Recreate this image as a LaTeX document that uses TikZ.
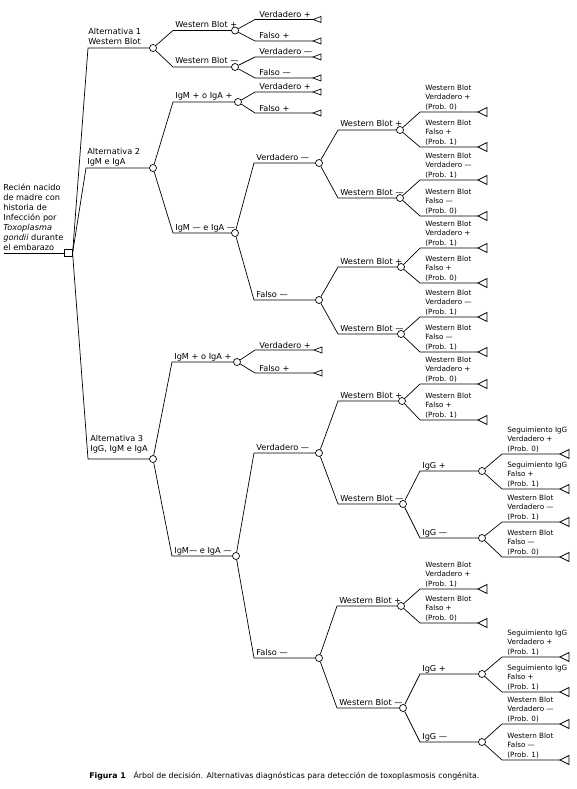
\documentclass[tikz,border=0pt]{standalone}
\usepackage{fontspec}
\setmainfont{DejaVu Sans}
\begin{document}
\begin{tikzpicture}[x=1pt, y=-1pt, line width=0.7pt,
	azar/.style={circle, draw, fill=white, inner sep=0pt, minimum size=7pt},
	decision/.style={rectangle, draw, fill=white, inner sep=0pt, minimum size=7.5pt},
	etq/.style={anchor=base west, inner sep=0pt, font=\fontsize{8.2}{10}\selectfont},
	etqm/.style={anchor=south west, inner sep=0pt, align=left, font=\fontsize{8.2}{10}\selectfont},
	hoja/.style={anchor=south west, inner sep=0pt, align=left, font=\fontsize{7.2}{9.3}\selectfont}]
	\useasboundingbox (0,0) rectangle (577,789);
	
	% Nodo de decision
	\node[decision] (R) at (68.5,253) {};
	\coordinate (r0) at (4,253);
	\draw (r0) -- (R);
	\node[etqm] (tR) at (3,250.5) {Recién nacido\\de madre con\\historia de\\Infección por\\\textit{Toxoplasma}\\\textit{gondii} durante\\el embarazo};
	
	% Alternativas
	\coordinate (a1) at (88,48);
	\coordinate (a2) at (86,168);
	\coordinate (a3) at (88,459);
	\node[azar] (A1) at (153,48) {};
	\node[azar] (A2) at (153,168) {};
	\node[azar] (A3) at (153,459) {};
	\draw (R.east) -- (a1) -- (A1);
	\draw (R.east) -- (a2) -- (A2);
	\draw (R.east) -- (a3) -- (A3);
	\node[etqm] (tA1) at (88,44.5) {Alternativa 1\\Western Blot};
	\node[etqm] (tA2) at (87,167) {Alternativa 2\\IgM e IgA};
	\node[etqm] (tA3) at (90,454) {Alternativa 3\\IgG, IgM e IgA};
	
	% Ramas intermedias
	\foreach \pa/\nm/\xa/\xb/\yy/\txt in {
		A1/c11/173/235/30.5/{Western Blot +},
		A1/c12/173/235/67/{Western Blot —},
		A2/c21/173/238/102/{IgM + o IgA +},
		A2/c22/173/235/233/{IgM — e IgA —},
		c22/c221/254/319/163/{Verdadero —},
		c22/c222/254/319/300/{Falso —},
		c221/c2211/338/400/130/{Western Blot +},
		c221/c2212/338/400/198/{Western Blot —},
		c222/c2221/338/401/267/{Western Blot +},
		c222/c2222/338/401/334/{Western Blot —},
		A3/c31/172/237/362/{IgM + o IgA +},
		A3/c32/172/236/556/{IgM— e IgA —},
		c32/c321/254/319/453/{Verdadero —},
		c32/c322/254/319/658/{Falso —},
		c321/c3211/338/402/401/{Western Blot +},
		c321/c3212/338/403/504/{Western Blot —},
		c3212/c32121/420/482/471/{IgG +},
		c3212/c32122/420/482/538/{IgG —},
		c322/c3221/337/401/606/{Western Blot +},
		c322/c3222/337/403/708/{Western Blot —},
		c3222/c32221/420/482/674/{IgG +},
		c3222/c32222/420/482/742/{IgG —}} {
		\coordinate (s\nm) at (\xa,\yy);
		\node[azar] (\nm) at (\xb,\yy) {};
		\draw (\pa) -- (s\nm) -- (\nm);
		\node[etq] (t\nm) at ([xshift=2pt,yshift=3pt]s\nm) {\txt};
	}
	
	% Hojas cortas
	\foreach \pa/\nm/\xa/\xb/\yy/\txt in {
		c11/h1/255/313/19.5/{Verdadero +},
		c11/h2/255/313/41/{Falso +},
		c12/h3/255/313/57/{Verdadero —},
		c12/h4/255/313/78/{Falso —},
		c21/h5/255/313/92/{Verdadero +},
		c21/h6/255/313/113/{Falso +},
		c31/h7/255/314/350/{Verdadero +},
		c31/h8/255/314/373/{Falso +}} {
		\coordinate (s\nm) at (\xa,\yy);
		\coordinate (e\nm) at (\xb,\yy);
		\draw (\pa) -- (s\nm) -- (e\nm);
		\draw (e\nm) -- ++(8,-3) -- ++(0,6) -- cycle;
		\node[etq] (t\nm) at ([xshift=4pt,yshift=2pt]s\nm) {\txt};
	}
	
	% Hojas con probabilidad
	\foreach \pa/\nm/\xa/\xb/\yy/\txt in {
		c2211/h9/420/478/112/{Western Blot\\Verdadero +\\(Prob. 0)},
		c2211/h10/420/478/147/{Western Blot\\Falso +\\(Prob. 1)},
		c2212/h11/420/478/180/{Western Blot\\Verdadero —\\(Prob. 1)},
		c2212/h12/420/478/216/{Western Blot\\Falso —\\(Prob. 0)},
		c2221/h13/420/478/248/{Western Blot\\Verdadero +\\(Prob. 1)},
		c2221/h14/420/478/283/{Western Blot\\Falso +\\(Prob. 0)},
		c2222/h15/420/478/317/{Western Blot\\Verdadero —\\(Prob. 1)},
		c2222/h16/420/478/352/{Western Blot\\Falso —\\(Prob. 1)},
		c3211/h17/420/478/384/{Western Blot\\Verdadero +\\(Prob. 0)},
		c3211/h18/420/478/420/{Western Blot\\Falso +\\(Prob. 1)},
		c32121/h19/502/560/454/{Seguimiento IgG\\Verdadero +\\(Prob. 0)},
		c32121/h20/502/560/489/{Seguimiento IgG\\Falso +\\(Prob. 1)},
		c32122/h21/502/560/522/{Western Blot\\Verdadero —\\(Prob. 1)},
		c32122/h22/502/560/557/{Western Blot\\Falso —\\(Prob. 0)},
		c3221/h23/420/478/589/{Western Blot\\Verdadero +\\(Prob. 1)},
		c3221/h24/420/478/623/{Western Blot\\Falso +\\(Prob. 0)},
		c32221/h25/502/560/657/{Seguimiento IgG\\Verdadero +\\(Prob. 1)},
		c32221/h26/502/560/692/{Seguimiento IgG\\Falso +\\(Prob. 1)},
		c32222/h27/502/560/724/{Western Blot\\Verdadero —\\(Prob. 0)},
		c32222/h28/502/560/760/{Western Blot\\Falso —\\(Prob. 1)}} {
		\coordinate (s\nm) at (\xa,\yy);
		\coordinate (e\nm) at (\xb,\yy);
		\draw (\pa) -- (s\nm) -- (e\nm);
		\draw (e\nm) -- ++(9,-4.5) -- ++(0,9) -- cycle;
		\node[hoja] (t\nm) at ([xshift=5pt,yshift=1.5pt]s\nm) {\txt};
	}
	
	% Pie de figura
	\node[anchor=base west, inner sep=0pt, font=\fontsize{7.8}{9}\selectfont] (cap) at (89,778)
		{\textbf{Figura 1}\hspace{1em}Árbol de decisión. Alternativas diagnósticas para detección de toxoplasmosis congénita.};
\end{tikzpicture}
\end{document}
